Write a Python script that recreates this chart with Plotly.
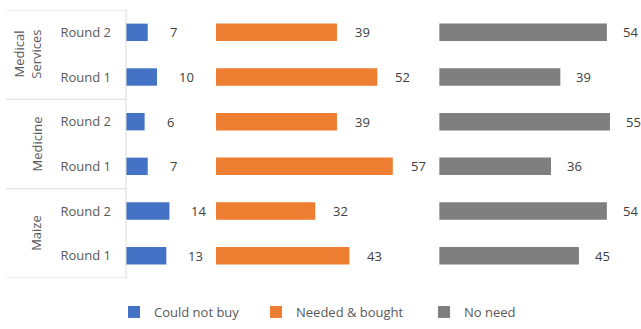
import plotly.graph_objects as go

# Categories, listed bottom to top as they appear on the chart
groups = ["Maize", "Medicine", "Medical Services"]
rounds = ["Round 1", "Round 2"]

# Share of households (%) per category, same order as the rows
could_not_buy = [13, 14, 7, 6, 10, 7]
needed_bought = [43, 32, 57, 39, 52, 39]
no_need = [45, 54, 36, 55, 39, 54]

series_names = ["Could not buy", "Needed & bought", "No need"]

# ---- styling / layout ----
W, H = 641, 329
ML, MT, MB = 126, 10, 51
FONT = "Open Sans"
TEXT = "#595959"
VALUE_TEXT = "#404040"
LINE = "#d9d9d9"
colors = ["#4472C4", "#ED7D31", "#7F7F7F"]
panel_base = [0, 29, 101]          # where each panel starts on the shared value axis
label_gap_px = [20, 16, 14]        # gap between bar end and its value label
x_max = 166
legend_x_px = [114, 256, 424]      # left edge of each legend entry
legend_y_px = 312

rows = [(g, r) for g in groups for r in rounds]
ypos = list(range(len(rows)))
series = [could_not_buy, needed_bought, no_need]

fig = go.Figure()
annotations = []
legend_keys = ["legend", "legend2", "legend3"]

for name, vals, col, base, gap, lkey in zip(series_names, series, colors,
                                             panel_base, label_gap_px, legend_keys):
    fig.add_trace(go.Bar(
        x=vals, y=ypos, base=[base] * len(vals), orientation="h",
        name=name, marker=dict(color=col, line=dict(width=0)),
        width=0.39, legend=lkey, hoverinfo="x+name",
    ))
    for v, y in zip(vals, ypos):
        annotations.append(dict(
            x=base + v, y=y, xref="x", yref="y", text=str(v),
            xanchor="left", yanchor="middle", xshift=gap, showarrow=False,
            font=dict(family=FONT, size=13, color=VALUE_TEXT),
        ))

# Group labels (rotated) centred on their pair of rows
plot_w = W - ML
def px_to_paper(px):
    return (px - ML) / plot_w

group_label_px = {"Maize": 36.5, "Medicine": 36.5, "Medical Services": 28}
for i, g in enumerate(groups):
    text = g.replace(" ", "<br>")
    annotations.append(dict(
        x=px_to_paper(group_label_px[g]), y=2 * i + 0.5, xref="paper", yref="y",
        text=text, textangle=-90, showarrow=False, xanchor="center", yanchor="middle",
        font=dict(family=FONT, size=13, color=TEXT),
    ))

# Category box: horizontal rules between groups and the axis line
shapes = []
for k in range(len(groups) + 1):
    yv = 2 * k - 0.5
    shapes.append(dict(type="line", xref="paper", yref="y",
                       x0=px_to_paper(6), x1=0, y0=yv, y1=yv,
                       line=dict(color=LINE, width=1)))
shapes.append(dict(type="line", xref="paper", yref="y", x0=0, x1=0,
                   y0=-0.5, y1=len(rows) - 0.5, line=dict(color=LINE, width=1)))

legend_common = dict(
    orientation="h", xref="container", yref="container",
    yanchor="middle", xanchor="left", bgcolor="rgba(0,0,0,0)",
    font=dict(family=FONT, size=13, color=TEXT), borderwidth=0,
)
legend_layout = {}
for lkey, lx in zip(legend_keys, legend_x_px):
    legend_layout[lkey] = dict(legend_common, x=lx / W, y=1 - legend_y_px / H)

fig.update_layout(
    width=W, height=H,
    margin=dict(l=ML, r=0, t=MT, b=MB),
    paper_bgcolor="white", plot_bgcolor="white",
    barmode="overlay",
    showlegend=True,
    xaxis=dict(range=[0, x_max], visible=False, fixedrange=True),
    yaxis=dict(
        range=[-0.5, len(rows) - 0.5], tickmode="array", tickvals=ypos,
        ticktext=[r for _, r in rows], showgrid=False, zeroline=False,
        showline=False, ticks="", ticklabelstandoff=14,
        tickfont=dict(family=FONT, size=13, color=TEXT), fixedrange=True,
    ),
    annotations=annotations,
    shapes=shapes,
    **legend_layout,
)

fig.write_html("out.html")
